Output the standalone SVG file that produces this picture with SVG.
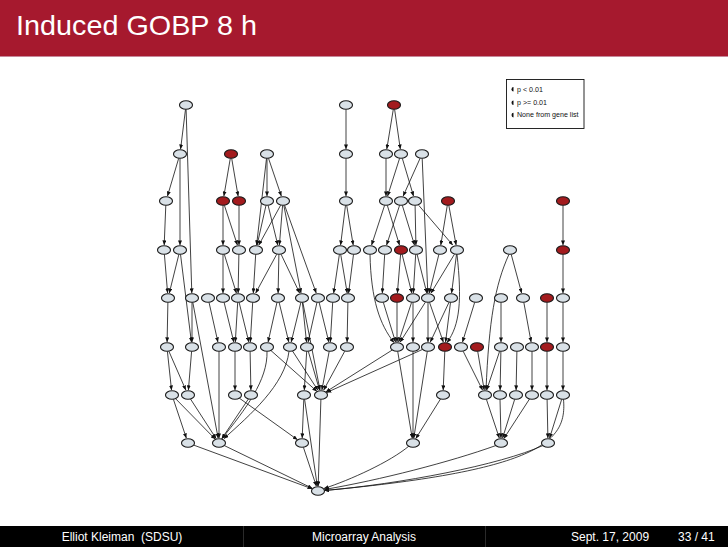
<svg xmlns="http://www.w3.org/2000/svg" width="728" height="547" viewBox="0 0 728 547">
<style>
.g ellipse{fill:#d9e1e7;stroke:#1a1a1a;stroke-width:1.1}
.r ellipse{fill:#a31b1e;stroke:#1a1a1a;stroke-width:1.1}
#edges path{fill:none;stroke:#111;stroke-width:0.8;marker-end:url(#ah)}
.ft{font-family:"Liberation Sans",Arial,sans-serif;font-size:12px;fill:#fff}
.lg{font-family:"Liberation Sans",Arial,sans-serif;font-size:7.1px;fill:#111}
</style>
<defs>
<marker id="ah" markerUnits="userSpaceOnUse" markerWidth="5" markerHeight="4" refX="4.6" refY="2" orient="auto">
<path d="M0,0 L4.8,2 L0,4 z" fill="#111"/>
</marker>
</defs>
<rect x="0" y="0" width="728" height="547" fill="#fff"/>
<g id="header">
<rect x="0" y="0" width="728" height="56" fill="#a6192e"/>
<rect x="0" y="56" width="728" height="1" fill="#c7879a"/>
<text x="16" y="35" font-family="Liberation Sans,Arial,sans-serif" font-size="28" fill="#fff" textLength="241" lengthAdjust="spacingAndGlyphs">Induced GOBP 8 h</text>
</g>
<g id="legend">
<rect x="506.5" y="79.5" width="77.5" height="49" fill="#fff" stroke="#111" stroke-width="0.9"/>
<path d="M513.5,87 a2,2.3 0 0 0 0,4.6 z" fill="#111"/>
<path d="M513.5,100.4 a2,2.3 0 0 0 0,4.6 z" fill="#111"/>
<path d="M513.5,112.8 a2,2.3 0 0 0 0,4.6 z" fill="#111"/>
<text class="lg" x="517" y="91.6">p &lt; 0.01</text>
<text class="lg" x="517" y="104.9">p &gt;= 0.01</text>
<text class="lg" x="517" y="117.3">None from gene list</text>
</g>
<g id="edges">
<path d="M185.5,109.3 L180.6,149"/>
<path d="M186.1,109.3 L191.8,293"/>
<path d="M346,109.3 L346,149"/>
<path d="M393.3,109.3 L386.8,149"/>
<path d="M394.6,109.3 L400.3,149"/>
<path d="M178.7,158.3 L167.5,196"/>
<path d="M180,158.3 L180,245"/>
<path d="M230.3,158.3 L223.9,196"/>
<path d="M231.7,158.3 L238.1,196"/>
<path d="M267,158.3 L267,196"/>
<path d="M268.5,158.3 L281.3,196"/>
<path d="M266.5,158.3 L256.6,245"/>
<path d="M346,158.3 L346,196"/>
<path d="M386,158.3 L386,196"/>
<path d="M399.6,158.3 L387.6,196"/>
<path d="M402.3,158.3 L413.5,196"/>
<path d="M420.1,158.3 L403.2,196"/>
<path d="M422.2,158.3 L427.8,293"/>
<path d="M165.8,205.3 L164.2,245"/>
<path d="M223,205.3 L223,245"/>
<path d="M224.4,205.3 L237.4,245"/>
<path d="M239,205.3 L239,245"/>
<path d="M266,205.3 L257.1,245"/>
<path d="M268.1,205.3 L277.8,245"/>
<path d="M282.6,205.3 L279.4,245"/>
<path d="M280.6,205.3 L258.8,245"/>
<path d="M283.8,205.3 L301,293"/>
<path d="M284.6,205.3 L316.2,293"/>
<path d="M345.5,205.3 L340.6,245"/>
<path d="M346.7,205.3 L353.2,245"/>
<path d="M384.6,205.3 L371.6,245"/>
<path d="M387.3,205.3 L399.5,245"/>
<path d="M399.6,205.3 L386.6,245"/>
<path d="M402.3,205.3 L414.5,245"/>
<path d="M415.1,205.3 L415.9,245"/>
<path d="M418.7,205.3 L452.7,245"/>
<path d="M447.3,205.3 L440.8,245"/>
<path d="M448.8,205.3 L456.1,245"/>
<path d="M563,205.3 L563,245"/>
<path d="M164.4,254.3 L167.6,293"/>
<path d="M178.9,254.3 L169.3,293"/>
<path d="M180.5,254.3 L191.4,342"/>
<path d="M223,254.3 L223,293"/>
<path d="M224.3,254.3 L236.4,293"/>
<path d="M238.9,254.3 L238.1,293"/>
<path d="M255.7,254.3 L253.3,293"/>
<path d="M276.7,254.3 L255.7,293"/>
<path d="M278.9,254.3 L278.1,293"/>
<path d="M281.1,254.3 L299.6,293"/>
<path d="M339.4,254.3 L333.7,293"/>
<path d="M340.7,254.3 L347.2,293"/>
<path d="M353.5,254.3 L348.6,293"/>
<path d="M370,254.3 C371,300 380,325 394,342.5"/>
<path d="M384.7,254.3 L382.3,293"/>
<path d="M400.6,254.3 L397.4,293"/>
<path d="M402.1,254.3 L411.8,293"/>
<path d="M415.7,254.3 L413.3,293"/>
<path d="M417.1,254.3 L426.8,293"/>
<path d="M438.9,254.3 L429.3,293"/>
<path d="M454.4,254.3 L431,293"/>
<path d="M456.5,254.3 L451.6,293"/>
<path d="M457,254.3 C462,300 460,325 447,342.5"/>
<path d="M511.2,254.3 L521.6,293"/>
<path d="M509,254.3 C495,285 489,320 486,390"/>
<path d="M563,254.3 L563,293"/>
<path d="M167.9,302.3 L167.1,342"/>
<path d="M192,302.3 L192,342"/>
<path d="M192.8,302.3 L218.1,438"/>
<path d="M209,302.3 L217.9,342"/>
<path d="M224.1,302.3 L233.8,342"/>
<path d="M237.7,302.3 L235.3,342"/>
<path d="M239.1,302.3 L248.8,342"/>
<path d="M252.7,302.3 L250.3,342"/>
<path d="M277,302.3 L268.1,342"/>
<path d="M279.1,302.3 L288.8,342"/>
<path d="M300.9,302.3 L291.2,342"/>
<path d="M302.4,302.3 L306.5,342"/>
<path d="M302.8,302.3 L320,390"/>
<path d="M317,302.3 L308.1,342"/>
<path d="M319.1,302.3 L328.8,342"/>
<path d="M332.7,302.3 L330.3,342"/>
<path d="M347.9,302.3 L347.1,342"/>
<path d="M383.3,302.3 L395.5,342"/>
<path d="M397,302.3 L397,342"/>
<path d="M411.6,302.3 L398.6,342"/>
<path d="M413,302.3 L413,342"/>
<path d="M425.3,302.3 L400.2,342"/>
<path d="M428,302.3 L428,342"/>
<path d="M429.5,302.3 L443.3,342"/>
<path d="M449,302.3 L430.3,342"/>
<path d="M450.5,302.3 L445.6,342"/>
<path d="M474.7,302.3 L462.5,342"/>
<path d="M501,302.3 L501,342"/>
<path d="M523.8,302.3 L531.1,342"/>
<path d="M547,302.3 L547,342"/>
<path d="M563,302.3 L563,342"/>
<path d="M167.4,351.3 L171.5,390"/>
<path d="M168.9,351.3 L185.8,390"/>
<path d="M191.6,351.3 L188.4,390"/>
<path d="M219,351.3 L219,438"/>
<path d="M235,351.3 L235,390"/>
<path d="M250.1,351.3 L250.9,390"/>
<path d="M267,351.3 C268,380 245,410 222,438.5"/>
<path d="M270.9,350.5 L316.9,391.3"/>
<path d="M289,351.3 C285,385 250,415 224,438.5"/>
<path d="M292.5,351 L317.9,390.2"/>
<path d="M306.7,351.3 L304.3,390"/>
<path d="M308.3,351.3 L319.5,390"/>
<path d="M329.2,351.3 L321.9,390"/>
<path d="M344.7,351.3 L323.7,390"/>
<path d="M392.3,350 L325.9,391.9"/>
<path d="M397.7,351.3 L412.2,438"/>
<path d="M413,351.3 L413,438"/>
<path d="M427.3,351.3 L413.8,438"/>
<path d="M422.6,349.4 L326.7,392.5"/>
<path d="M444.8,351.3 L443.2,390"/>
<path d="M463.2,351.3 L482.5,390"/>
<path d="M477.7,351.3 L484.2,390"/>
<path d="M499.6,351.3 L486.7,390"/>
<path d="M500.9,351.3 L500.1,390"/>
<path d="M516.9,351.3 L516.1,390"/>
<path d="M532,351.3 L532,390"/>
<path d="M547,351.3 L547,390"/>
<path d="M563,351.3 L563,390"/>
<path d="M173.4,399.3 L186.3,438"/>
<path d="M175.5,398.6 L215.3,439.2"/>
<path d="M190.5,399 L216.1,438.5"/>
<path d="M239.4,398.2 L297.4,439.7"/>
<path d="M248.4,399 L221.8,438.6"/>
<path d="M303.8,399.3 L302.2,438"/>
<path d="M304.6,399.3 L317.3,486"/>
<path d="M320.9,399.3 L318.2,486"/>
<path d="M440.5,399 L415.8,438.5"/>
<path d="M486.4,399.3 L499.3,438"/>
<path d="M500,399.3 L501,438"/>
<path d="M514.7,399.3 L502.6,438"/>
<path d="M529.5,399 L503.9,438.5"/>
<path d="M547.1,399.3 L547.9,438"/>
<path d="M561.7,399.3 L549.6,438"/>
<path d="M563.5,399.3 C567,440 545,470 324.5,490.5"/>
<path d="M193.7,445.1 L312.1,488.8"/>
<path d="M224.2,445.5 L312.3,488.3"/>
<path d="M303.4,447.3 L316.3,486"/>
<path d="M409,446 C390,462 350,480 324,488.5"/>
<path d="M496,445.5 C450,462 380,480 324.5,489.5"/>
<path d="M543,445.5 C500,465 400,484 324.5,490.5"/>
</g>
<g id="A1" class="g"><ellipse cx="186" cy="105" rx="6.5" ry="4.3"/></g>
<g id="A2" class="g"><ellipse cx="346" cy="105" rx="6.5" ry="4.3"/></g>
<g id="A3" class="r"><ellipse cx="394" cy="105" rx="6.5" ry="4.3"/></g>
<g id="B1" class="g"><ellipse cx="180" cy="154" rx="6.5" ry="4.3"/></g>
<g id="B2" class="r"><ellipse cx="231" cy="154" rx="6.5" ry="4.3"/></g>
<g id="B3" class="g"><ellipse cx="267" cy="154" rx="6.5" ry="4.3"/></g>
<g id="B4" class="g"><ellipse cx="346" cy="154" rx="6.5" ry="4.3"/></g>
<g id="B5" class="g"><ellipse cx="386" cy="154" rx="6.5" ry="4.3"/></g>
<g id="B6" class="g"><ellipse cx="401" cy="154" rx="6.5" ry="4.3"/></g>
<g id="B7" class="g"><ellipse cx="422" cy="154" rx="6.5" ry="4.3"/></g>
<g id="C1" class="g"><ellipse cx="166" cy="201" rx="6.5" ry="4.3"/></g>
<g id="C2" class="r"><ellipse cx="223" cy="201" rx="6.5" ry="4.3"/></g>
<g id="C3" class="r"><ellipse cx="239" cy="201" rx="6.5" ry="4.3"/></g>
<g id="C4" class="g"><ellipse cx="267" cy="201" rx="6.5" ry="4.3"/></g>
<g id="C5" class="g"><ellipse cx="283" cy="201" rx="6.5" ry="4.3"/></g>
<g id="C6" class="g"><ellipse cx="346" cy="201" rx="6.5" ry="4.3"/></g>
<g id="C7" class="g"><ellipse cx="386" cy="201" rx="6.5" ry="4.3"/></g>
<g id="C8" class="g"><ellipse cx="401" cy="201" rx="6.5" ry="4.3"/></g>
<g id="C9" class="g"><ellipse cx="415" cy="201" rx="6.5" ry="4.3"/></g>
<g id="C10" class="r"><ellipse cx="448" cy="201" rx="6.5" ry="4.3"/></g>
<g id="C11" class="r"><ellipse cx="563" cy="201" rx="6.5" ry="4.3"/></g>
<g id="D1" class="g"><ellipse cx="164" cy="250" rx="6.5" ry="4.3"/></g>
<g id="D2" class="g"><ellipse cx="180" cy="250" rx="6.5" ry="4.3"/></g>
<g id="D3" class="g"><ellipse cx="223" cy="250" rx="6.5" ry="4.3"/></g>
<g id="D4" class="g"><ellipse cx="239" cy="250" rx="6.5" ry="4.3"/></g>
<g id="D5" class="g"><ellipse cx="256" cy="250" rx="6.5" ry="4.3"/></g>
<g id="D6" class="g"><ellipse cx="279" cy="250" rx="6.5" ry="4.3"/></g>
<g id="D7" class="g"><ellipse cx="340" cy="250" rx="6.5" ry="4.3"/></g>
<g id="D8" class="g"><ellipse cx="354" cy="250" rx="6.5" ry="4.3"/></g>
<g id="D9" class="g"><ellipse cx="370" cy="250" rx="6.5" ry="4.3"/></g>
<g id="D10" class="g"><ellipse cx="385" cy="250" rx="6.5" ry="4.3"/></g>
<g id="D11" class="r"><ellipse cx="401" cy="250" rx="6.5" ry="4.3"/></g>
<g id="D12" class="g"><ellipse cx="416" cy="250" rx="6.5" ry="4.3"/></g>
<g id="D13" class="g"><ellipse cx="440" cy="250" rx="6.5" ry="4.3"/></g>
<g id="D14" class="g"><ellipse cx="457" cy="250" rx="6.5" ry="4.3"/></g>
<g id="D15" class="g"><ellipse cx="510" cy="250" rx="6.5" ry="4.3"/></g>
<g id="D16" class="r"><ellipse cx="563" cy="250" rx="6.5" ry="4.3"/></g>
<g id="E1" class="g"><ellipse cx="168" cy="298" rx="6.5" ry="4.3"/></g>
<g id="E2" class="g"><ellipse cx="192" cy="298" rx="6.5" ry="4.3"/></g>
<g id="E3" class="g"><ellipse cx="208" cy="298" rx="6.5" ry="4.3"/></g>
<g id="E4" class="g"><ellipse cx="223" cy="298" rx="6.5" ry="4.3"/></g>
<g id="E5" class="g"><ellipse cx="238" cy="298" rx="6.5" ry="4.3"/></g>
<g id="E6" class="g"><ellipse cx="253" cy="298" rx="6.5" ry="4.3"/></g>
<g id="E7" class="g"><ellipse cx="278" cy="298" rx="6.5" ry="4.3"/></g>
<g id="E8" class="g"><ellipse cx="302" cy="298" rx="6.5" ry="4.3"/></g>
<g id="E9" class="g"><ellipse cx="318" cy="298" rx="6.5" ry="4.3"/></g>
<g id="E10" class="g"><ellipse cx="333" cy="298" rx="6.5" ry="4.3"/></g>
<g id="E11" class="g"><ellipse cx="348" cy="298" rx="6.5" ry="4.3"/></g>
<g id="E12" class="g"><ellipse cx="382" cy="298" rx="6.5" ry="4.3"/></g>
<g id="E13" class="r"><ellipse cx="397" cy="298" rx="6.5" ry="4.3"/></g>
<g id="E14" class="g"><ellipse cx="413" cy="298" rx="6.5" ry="4.3"/></g>
<g id="E15" class="g"><ellipse cx="428" cy="298" rx="6.5" ry="4.3"/></g>
<g id="E16" class="g"><ellipse cx="451" cy="298" rx="6.5" ry="4.3"/></g>
<g id="E17" class="g"><ellipse cx="476" cy="298" rx="6.5" ry="4.3"/></g>
<g id="E18" class="g"><ellipse cx="501" cy="298" rx="6.5" ry="4.3"/></g>
<g id="E19" class="g"><ellipse cx="523" cy="298" rx="6.5" ry="4.3"/></g>
<g id="E20" class="r"><ellipse cx="547" cy="298" rx="6.5" ry="4.3"/></g>
<g id="E21" class="g"><ellipse cx="563" cy="298" rx="6.5" ry="4.3"/></g>
<g id="F1" class="g"><ellipse cx="167" cy="347" rx="6.5" ry="4.3"/></g>
<g id="F2" class="g"><ellipse cx="192" cy="347" rx="6.5" ry="4.3"/></g>
<g id="F3" class="g"><ellipse cx="219" cy="347" rx="6.5" ry="4.3"/></g>
<g id="F4" class="g"><ellipse cx="235" cy="347" rx="6.5" ry="4.3"/></g>
<g id="F5" class="g"><ellipse cx="250" cy="347" rx="6.5" ry="4.3"/></g>
<g id="F6" class="g"><ellipse cx="267" cy="347" rx="6.5" ry="4.3"/></g>
<g id="F7" class="g"><ellipse cx="290" cy="347" rx="6.5" ry="4.3"/></g>
<g id="F8" class="g"><ellipse cx="307" cy="347" rx="6.5" ry="4.3"/></g>
<g id="F9" class="g"><ellipse cx="330" cy="347" rx="6.5" ry="4.3"/></g>
<g id="F10" class="g"><ellipse cx="347" cy="347" rx="6.5" ry="4.3"/></g>
<g id="F11" class="g"><ellipse cx="397" cy="347" rx="6.5" ry="4.3"/></g>
<g id="F12" class="g"><ellipse cx="413" cy="347" rx="6.5" ry="4.3"/></g>
<g id="F13" class="g"><ellipse cx="428" cy="347" rx="6.5" ry="4.3"/></g>
<g id="F14" class="r"><ellipse cx="445" cy="347" rx="6.5" ry="4.3"/></g>
<g id="F15" class="g"><ellipse cx="461" cy="347" rx="6.5" ry="4.3"/></g>
<g id="F16" class="r"><ellipse cx="477" cy="347" rx="6.5" ry="4.3"/></g>
<g id="F17" class="g"><ellipse cx="501" cy="347" rx="6.5" ry="4.3"/></g>
<g id="F18" class="g"><ellipse cx="517" cy="347" rx="6.5" ry="4.3"/></g>
<g id="F19" class="g"><ellipse cx="532" cy="347" rx="6.5" ry="4.3"/></g>
<g id="F20" class="r"><ellipse cx="547" cy="347" rx="6.5" ry="4.3"/></g>
<g id="F21" class="g"><ellipse cx="563" cy="347" rx="6.5" ry="4.3"/></g>
<g id="G1" class="g"><ellipse cx="172" cy="395" rx="6.5" ry="4.3"/></g>
<g id="G2" class="g"><ellipse cx="188" cy="395" rx="6.5" ry="4.3"/></g>
<g id="G3" class="g"><ellipse cx="235" cy="395" rx="6.5" ry="4.3"/></g>
<g id="G4" class="g"><ellipse cx="251" cy="395" rx="6.5" ry="4.3"/></g>
<g id="G5" class="g"><ellipse cx="304" cy="395" rx="6.5" ry="4.3"/></g>
<g id="G6" class="g"><ellipse cx="321" cy="395" rx="6.5" ry="4.3"/></g>
<g id="G7" class="g"><ellipse cx="443" cy="395" rx="6.5" ry="4.3"/></g>
<g id="G8" class="g"><ellipse cx="485" cy="395" rx="6.5" ry="4.3"/></g>
<g id="G9" class="g"><ellipse cx="500" cy="395" rx="6.5" ry="4.3"/></g>
<g id="G10" class="g"><ellipse cx="516" cy="395" rx="6.5" ry="4.3"/></g>
<g id="G11" class="g"><ellipse cx="532" cy="395" rx="6.5" ry="4.3"/></g>
<g id="G12" class="g"><ellipse cx="547" cy="395" rx="6.5" ry="4.3"/></g>
<g id="G13" class="g"><ellipse cx="563" cy="395" rx="6.5" ry="4.3"/></g>
<g id="H1" class="g"><ellipse cx="188" cy="443" rx="6.5" ry="4.3"/></g>
<g id="H2" class="g"><ellipse cx="219" cy="443" rx="6.5" ry="4.3"/></g>
<g id="H3" class="g"><ellipse cx="302" cy="443" rx="6.5" ry="4.3"/></g>
<g id="H4" class="g"><ellipse cx="413" cy="443" rx="6.5" ry="4.3"/></g>
<g id="H5" class="g"><ellipse cx="501" cy="443" rx="6.5" ry="4.3"/></g>
<g id="H6" class="g"><ellipse cx="548" cy="443" rx="6.5" ry="4.3"/></g>
<g id="I1" class="g"><ellipse cx="318" cy="491" rx="6.5" ry="4.3"/></g>
<g id="footer">
<rect x="0" y="526" width="728" height="21" fill="#000"/>
<rect x="243" y="526" width="1" height="21" fill="#2a2a2a"/>
<rect x="485" y="526" width="1" height="21" fill="#2a2a2a"/>
<text class="ft" x="122" y="540.5" text-anchor="middle" xml:space="preserve">Elliot Kleiman  (SDSU)</text>
<text class="ft" x="364" y="540.5" text-anchor="middle">Microarray Analysis</text>
<text class="ft" x="571" y="540.5">Sept. 17, 2009</text>
<text class="ft" x="678" y="540.5">33 / 41</text>
</g>
</svg>
